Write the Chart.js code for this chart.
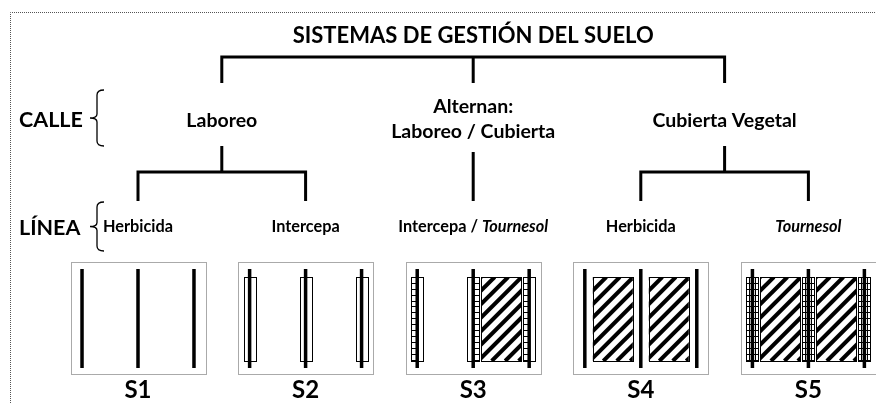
<!DOCTYPE html>
<html>
<head>
<meta charset="utf-8">
<script src="https://cdn.jsdelivr.net/npm/chart.js@4.4.1/dist/chart.umd.min.js"></script>
<style>
  html, body { margin: 0; padding: 0; background: #fff; }
  #wrap { width: 876px; height: 403px; }
</style>
</head>
<body>
<div id="wrap"><canvas id="diagram" width="876" height="403"></canvas></div>
<script>
const TITLE = 'SISTEMAS DE GESTIÓN DEL SUELO';
const LEVELS = ['CALLE', 'LÍNEA'];
// alley management (middle level of the tree)
const CALLE = [['Laboreo'], ['Alternan:', 'Laboreo / Cubierta'], ['Cubierta Vegetal']];
// row management (bottom level), each label as [text, italic] runs
const LINEA = [
    [['Herbicida', false]],
    [['Intercepa', false]],
    [['Intercepa / ', false], ['Tournesol', true]],
    [['Herbicida', false]],
    [['Tournesol', true]]
];
const LINEA_PARENT = [0, 0, 1, 2, 2];
const SYSTEMS = ['S1', 'S2', 'S3', 'S4', 'S5'];
// strip drawn round each of the 3 vine rows of a system
const ROW_STRIP = [
    ['none', 'none', 'none'],
    ['open', 'open', 'open'],
    ['left', 'right', 'left'],
    ['none', 'none', 'none'],
    ['grid', 'grid', 'grid']
];
// cover crop in each of the 2 alleys of a system
const ALLEY_COVER = [
    [false, false],
    [false, false],
    [false, true],
    [true, true],
    [true, true]
];

// layout (x in system units, y in 0..403 from the top)
const UNIT = 167.6;
const X_MIN = 1 - 138 / UNIT;
const X_MAX = X_MIN + 876 / UNIT;
const ROW_STEP = 0.334;
const Y = {
    title: 43, bar1: 57, drop1: 83,
    calle: 127, calle2: [113, 138], stem: 146, stem2: 152,
    bar2: 172, drop2: 201, linea: 232, levelLinea: 235,
    boxTop: 262, boxBottom: 374, rowTop: 269, rowBottom: 368,
    stripTop: 277, stripBottom: 361, label: 398
};
const FONT = 'Lato, "Open Sans", sans-serif';
const SIZE = { title: 22, calle: 19.5, linea: 16.3, system: 24, level: 21.5 };

const childX = LINEA.map((_, i) => i + 1);
const calleX = CALLE.map((_, c) => {
    const kids = childX.filter((_, i) => LINEA_PARENT[i] === c);
    return kids.reduce((a, b) => a + b, 0) / kids.length;
});

function treePoints() {
    const pts = [];
    const seg = list => { list.forEach(p => pts.push({ x: p[0], y: p[1] })); pts.push({ x: list[0][0], y: null }); };
    const lo = Math.min(...calleX), hi = Math.max(...calleX);
    seg([[lo, Y.drop1], [lo, Y.bar1], [hi, Y.bar1], [hi, Y.drop1]]);
    calleX.forEach(cx => { if (cx > lo && cx < hi) seg([[cx, Y.bar1], [cx, Y.drop1]]); });
    CALLE.forEach((lines, c) => {
        const cx = calleX[c];
        const kids = childX.filter((_, i) => LINEA_PARENT[i] === c);
        const top = lines.length > 1 ? Y.stem2 : Y.stem;
        if (kids.length === 1) {
            seg([[cx, top], [cx, Y.drop2]]);
        } else {
            seg([[cx, top], [cx, Y.bar2]]);
            seg([[kids[0], Y.drop2], [kids[0], Y.bar2], [kids[kids.length - 1], Y.bar2], [kids[kids.length - 1], Y.drop2]]);
        }
    });
    return pts;
}

function rowPoints() {
    const pts = [];
    SYSTEMS.forEach((_, i) => {
        for (let k = 0; k < 3; k++) {
            const rx = i + 1 + (k - 1) * ROW_STEP;
            pts.push({ x: rx, y: Y.rowTop }, { x: rx, y: Y.rowBottom }, { x: rx, y: null });
        }
    });
    return pts;
}

function strokeRect(ctx, x0, y0, x1, y1) {
    ctx.strokeRect(Math.round(x0) + 0.5, Math.round(y0) + 0.5, Math.round(x1 - x0), Math.round(y1 - y0));
}

function hline(ctx, x0, x1, yy) {
    ctx.beginPath();
    ctx.moveTo(x0, Math.round(yy) + 0.5);
    ctx.lineTo(x1, Math.round(yy) + 0.5);
    ctx.stroke();
}

function vline(ctx, xx, y0, y1) {
    ctx.beginPath();
    ctx.moveTo(Math.round(xx) + 0.5, y0);
    ctx.lineTo(Math.round(xx) + 0.5, y1);
    ctx.stroke();
}

function drawStrip(ctx, kind, cx, y0, y1) {
    if (kind === 'none') return;
    const hw = 6;
    ctx.lineWidth = 1;
    ctx.strokeStyle = '#000';
    ctx.fillStyle = '#fff';
    ctx.fillRect(cx - hw, y0, hw * 2, y1 - y0);
    strokeRect(ctx, cx - hw, y0, cx + hw, y1);
    if (kind === 'open') return;
    const step = 5.9;
    let a = cx - hw, b = cx + hw;
    if (kind === 'left') b = cx;
    if (kind === 'right') a = cx;
    if (kind === 'grid') { vline(ctx, cx - 3, y0, y1); vline(ctx, cx + 3, y0, y1); }
    for (let yy = y0 + step; yy < y1 - 1; yy += step) hline(ctx, a, b, yy);
}

function drawHatch(ctx, x0, x1, y0, y1) {
    ctx.save();
    ctx.fillStyle = '#fff';
    ctx.fillRect(x0, y0, x1 - x0, y1 - y0);
    ctx.beginPath();
    ctx.rect(x0, y0, x1 - x0, y1 - y0);
    ctx.clip();
    ctx.strokeStyle = '#000';
    ctx.lineWidth = 4;
    const h = y1 - y0;
    for (let s = x0 - h; s < x1 + 14; s += 13.5) {
        ctx.beginPath();
        ctx.moveTo(s, y1);
        ctx.lineTo(s + h, y0);
        ctx.stroke();
    }
    ctx.restore();
    ctx.lineWidth = 1;
    ctx.strokeStyle = '#000';
    strokeRect(ctx, x0, y0, x1, y1);
}

function drawRuns(ctx, runs, cx, baseline, size) {
    const fonts = runs.map(r => `${r[1] ? 'italic ' : ''}bold ${size}px ${FONT}`);
    const widths = runs.map((r, i) => { ctx.font = fonts[i]; return ctx.measureText(r[0]).width; });
    let xx = cx - widths.reduce((a, b) => a + b, 0) / 2;
    ctx.textAlign = 'left';
    ctx.textBaseline = 'alphabetic';
    runs.forEach((r, i) => {
        ctx.font = fonts[i];
        ctx.fillText(r[0], xx, baseline);
        xx += widths[i];
    });
}

function drawBrace(ctx, bx, y0, y1) {
    const ym = (y0 + y1) / 2;
    ctx.beginPath();
    ctx.moveTo(bx + 7, y0);
    ctx.quadraticCurveTo(bx, y0, bx, y0 + 5);
    ctx.lineTo(bx, ym - 4);
    ctx.quadraticCurveTo(bx, ym, bx - 7, ym);
    ctx.quadraticCurveTo(bx, ym, bx, ym + 4);
    ctx.lineTo(bx, y1 - 5);
    ctx.quadraticCurveTo(bx, y1, bx + 7, y1);
    ctx.stroke();
}

const diagramPlugin = {
    id: 'diagram',
    beforeDatasetsDraw(chart) {
        const { ctx, chartArea, scales: { x, y } } = chart;
        ctx.save();
        // outer dotted frame
        ctx.strokeStyle = '#555';
        ctx.lineWidth = 1;
        ctx.setLineDash([1, 1]);
        ctx.beginPath();
        ctx.moveTo(chartArea.left + 10.5, chartArea.bottom);
        ctx.lineTo(chartArea.left + 10.5, 12.5);
        ctx.lineTo(chartArea.right, 12.5);
        ctx.stroke();
        // system boxes
        SYSTEMS.forEach((_, i) => {
            const left = x.getPixelForValue(i + 1 - ROW_STEP) - 11.5;
            const right = x.getPixelForValue(i + 1 + ROW_STEP) + 11.5;
            strokeRect(ctx, left, y.getPixelForValue(Y.boxTop), right, y.getPixelForValue(Y.boxBottom));
        });
        ctx.setLineDash([]);
        const sTop = y.getPixelForValue(Y.stripTop), sBot = y.getPixelForValue(Y.stripBottom);
        SYSTEMS.forEach((_, i) => {
            const rows = [0, 1, 2].map(k => x.getPixelForValue(i + 1 + (k - 1) * ROW_STEP));
            ALLEY_COVER[i].forEach((on, a) => {
                if (on) drawHatch(ctx, rows[a] + 8, rows[a + 1] - 8, sTop, sBot);
            });
            ROW_STRIP[i].forEach((kind, k) => drawStrip(ctx, kind, rows[k], sTop, sBot));
        });
        ctx.restore();
    },
    afterDatasetsDraw(chart) {
        const { ctx, chartArea, scales: { x, y } } = chart;
        ctx.save();
        ctx.fillStyle = '#000';
        ctx.strokeStyle = '#000';
        const rootX = x.getPixelForValue(calleX.reduce((a, b) => a + b, 0) / calleX.length);
        drawRuns(ctx, [[TITLE, false]], rootX, y.getPixelForValue(Y.title), SIZE.title);
        CALLE.forEach((lines, c) => {
            const cx = x.getPixelForValue(calleX[c]);
            if (lines.length === 1) drawRuns(ctx, [[lines[0], false]], cx, y.getPixelForValue(Y.calle), SIZE.calle);
            else lines.forEach((t, j) => drawRuns(ctx, [[t, false]], cx, y.getPixelForValue(Y.calle2[j]), SIZE.calle));
        });
        LINEA.forEach((runs, i) => drawRuns(ctx, runs, x.getPixelForValue(childX[i]), y.getPixelForValue(Y.linea), SIZE.linea));
        SYSTEMS.forEach((s, i) => drawRuns(ctx, [[s, false]], x.getPixelForValue(i + 1), y.getPixelForValue(Y.label), SIZE.system));
        // level names with braces
        ctx.font = `bold ${SIZE.level}px ${FONT}`;
        ctx.textAlign = 'left';
        ctx.fillText(LEVELS[0], chartArea.left + 19, y.getPixelForValue(Y.calle));
        ctx.fillText(LEVELS[1], chartArea.left + 19, y.getPixelForValue(Y.levelLinea));
        ctx.lineWidth = 1.3;
        drawBrace(ctx, chartArea.left + 97, 90, 146);
        drawBrace(ctx, chartArea.left + 97, 202, 251);
        ctx.restore();
    }
};

new Chart(document.getElementById('diagram'), {
    type: 'line',
    data: {
        datasets: [
            {
                data: treePoints(),
                borderColor: '#000',
                borderWidth: 3,
                borderJoinStyle: 'miter',
                borderCapStyle: 'butt',
                pointRadius: 0,
                spanGaps: false,
                tension: 0
            },
            {
                data: rowPoints(),
                borderColor: '#000',
                borderWidth: 3.5,
                borderCapStyle: 'butt',
                pointRadius: 0,
                spanGaps: false,
                tension: 0
            }
        ]
    },
    options: {
        responsive: false,
        animation: false,
        devicePixelRatio: 1,
        events: [],
        layout: { padding: 0 },
        scales: {
            x: { type: 'linear', display: false, min: X_MIN, max: X_MAX },
            y: { type: 'linear', display: false, min: 0, max: 403, reverse: true }
        },
        plugins: {
            legend: { display: false },
            tooltip: { enabled: false }
        }
    },
    plugins: [diagramPlugin]
});
</script>
</body>
</html>
